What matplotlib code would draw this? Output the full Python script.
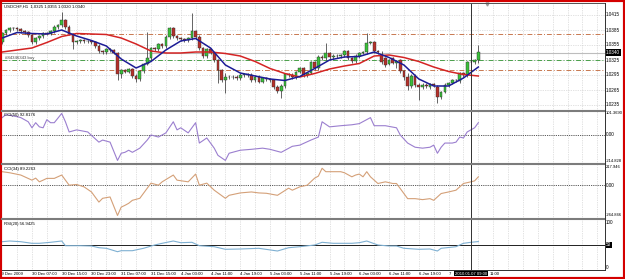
import numpy as np
import matplotlib
matplotlib.use("Agg")
import matplotlib.pyplot as plt
import matplotlib.transforms as mtransforms
from matplotlib.lines import Line2D
from matplotlib.patches import Rectangle

plt.rcParams['font.family'] = ['Liberation Sans', 'DejaVu Sans']

# ---------------- data ----------------
title_text = "USDCHF,H1  1.0325 1.0355 1.0320 1.0340"
order_text = "#84346343 buy"
cci50_text = "CCI(50) 92.8176"
cci34_text = "CCI(34) 89.2263"
rsi_text = "RSI(20) 56.9425"

time_labels = ["29 Dec 2009", "30 Dec 07:00", "30 Dec 15:00", "30 Dec 23:00", "31 Dec 07:00",
               "31 Dec 15:00", "4 Jan 03:00", "4 Jan 11:00", "4 Jan 19:00", "5 Jan 03:00",
               "5 Jan 11:00", "5 Jan 19:00", "6 Jan 03:00", "6 Jan 11:00", "6 Jan 19:00",
               "7 Jan 03:00", "7 Jan 11:00"]
time_label_bars = [0, 8, 16, 24, 32, 40, 48, 56, 64, 72, 80, 88, 96, 104, 112, 120, 128]
crosshair_label = "2010.01.07 09:00"
crosshair_bar = 126

open_ = [1.0361, 1.0379, 1.0385, 1.0389, 1.0389, 1.0387, 1.0383, 1.0381, 1.0375, 1.0361,
         1.0369, 1.0373, 1.0379, 1.0377, 1.0383, 1.0391, 1.0395, 1.0405, 1.0391, 1.0377,
         1.0361, 1.0363, 1.0365, 1.0363, 1.0363, 1.0361, 1.0353, 1.0343, 1.0341, 1.0347,
         1.0345, 1.0339, 1.0297, 1.0305, 1.0301, 1.0307, 1.0293, 1.0287, 1.0303, 1.0317,
         1.0329, 1.0349, 1.0347, 1.0357, 1.0353, 1.0371, 1.0389, 1.0373, 1.0369, 1.0367,
         1.0365, 1.0369, 1.0383, 1.0371, 1.0349, 1.0333, 1.0347, 1.0339, 1.0325, 1.0305,
         1.0285, 1.0291, 1.0291, 1.0291, 1.0289, 1.0295, 1.0297, 1.0295, 1.0285, 1.0291,
         1.0281, 1.0289, 1.0287, 1.0285, 1.0271, 1.0263, 1.0273, 1.0297, 1.0295, 1.0291,
         1.0301, 1.0309, 1.0295, 1.0299, 1.0321, 1.0309, 1.0331, 1.0329, 1.0339, 1.0331,
         1.0333, 1.0333, 1.0335, 1.0343, 1.0329, 1.0323, 1.0333, 1.0339, 1.0341, 1.0359,
         1.0361, 1.0343, 1.0335, 1.0329, 1.0317, 1.0329, 1.0319, 1.0325, 1.0303, 1.0291,
         1.0273, 1.0293, 1.0275, 1.0271, 1.0275, 1.0271, 1.0277, 1.0271, 1.0251, 1.0261,
         1.0275, 1.0279, 1.0285, 1.0283, 1.0299, 1.0295, 1.0321, 1.0321, 1.0325]
high_ = [1.0382, 1.0388, 1.0392, 1.0392, 1.0392, 1.0390, 1.0386, 1.0384, 1.0378, 1.0372,
         1.0376, 1.0382, 1.0382, 1.0386, 1.0394, 1.0398, 1.0421, 1.0408, 1.0394, 1.0380,
         1.0366, 1.0368, 1.0368, 1.0366, 1.0366, 1.0364, 1.0356, 1.0346, 1.0350, 1.0350,
         1.0348, 1.0342, 1.0308, 1.0308, 1.0310, 1.0310, 1.0296, 1.0306, 1.0320, 1.0381,
         1.0352, 1.0352, 1.0360, 1.0360, 1.0374, 1.0392, 1.0392, 1.0376, 1.0372, 1.0370,
         1.0372, 1.0419, 1.0386, 1.0374, 1.0352, 1.0350, 1.0350, 1.0342, 1.0328, 1.0308,
         1.0299, 1.0294, 1.0294, 1.0294, 1.0298, 1.0300, 1.0300, 1.0298, 1.0294, 1.0294,
         1.0292, 1.0292, 1.0290, 1.0288, 1.0274, 1.0276, 1.0300, 1.0300, 1.0298, 1.0304,
         1.0312, 1.0312, 1.0302, 1.0324, 1.0324, 1.0334, 1.0334, 1.0359, 1.0342, 1.0336,
         1.0336, 1.0338, 1.0346, 1.0346, 1.0332, 1.0336, 1.0342, 1.0344, 1.0379, 1.0364,
         1.0364, 1.0346, 1.0344, 1.0332, 1.0328, 1.0332, 1.0326, 1.0328, 1.0306, 1.0299,
         1.0296, 1.0296, 1.0278, 1.0278, 1.0278, 1.0280, 1.0280, 1.0274, 1.0264, 1.0278,
         1.0282, 1.0288, 1.0288, 1.0302, 1.0302, 1.0324, 1.0324, 1.0328, 1.0355]
low_ = [1.0357, 1.0376, 1.0382, 1.0386, 1.0384, 1.0380, 1.0378, 1.0372, 1.0358, 1.0358,
        1.0366, 1.0370, 1.0374, 1.0374, 1.0380, 1.0388, 1.0392, 1.0388, 1.0374, 1.0347,
        1.0358, 1.0360, 1.0360, 1.0360, 1.0358, 1.0350, 1.0340, 1.0338, 1.0338, 1.0342,
        1.0336, 1.0285, 1.0290, 1.0298, 1.0298, 1.0290, 1.0281, 1.0284, 1.0300, 1.0314,
        1.0326, 1.0344, 1.0344, 1.0350, 1.0350, 1.0368, 1.0370, 1.0366, 1.0364, 1.0362,
        1.0362, 1.0366, 1.0368, 1.0346, 1.0330, 1.0330, 1.0336, 1.0322, 1.0279, 1.0282,
        1.0259, 1.0288, 1.0288, 1.0286, 1.0286, 1.0292, 1.0292, 1.0282, 1.0282, 1.0278,
        1.0278, 1.0284, 1.0282, 1.0268, 1.0260, 1.0249, 1.0270, 1.0292, 1.0288, 1.0288,
        1.0298, 1.0292, 1.0292, 1.0296, 1.0306, 1.0306, 1.0326, 1.0326, 1.0328, 1.0328,
        1.0330, 1.0330, 1.0332, 1.0326, 1.0320, 1.0320, 1.0330, 1.0336, 1.0338, 1.0356,
        1.0340, 1.0338, 1.0318, 1.0312, 1.0314, 1.0316, 1.0309, 1.0300, 1.0285, 1.0265,
        1.0270, 1.0272, 1.0245, 1.0268, 1.0270, 1.0268, 1.0272, 1.0239, 1.0248, 1.0258,
        1.0272, 1.0276, 1.0282, 1.0280, 1.0292, 1.0292, 1.0318, 1.0318, 1.0320]
close_ = [1.0379, 1.0385, 1.0389, 1.0389, 1.0387, 1.0383, 1.0381, 1.0375, 1.0361, 1.0369,
          1.0373, 1.0379, 1.0377, 1.0383, 1.0391, 1.0395, 1.0405, 1.0391, 1.0377, 1.0361,
          1.0363, 1.0365, 1.0363, 1.0363, 1.0361, 1.0353, 1.0343, 1.0341, 1.0347, 1.0345,
          1.0339, 1.0297, 1.0305, 1.0301, 1.0307, 1.0293, 1.0287, 1.0303, 1.0317, 1.0329,
          1.0349, 1.0347, 1.0357, 1.0353, 1.0371, 1.0389, 1.0373, 1.0369, 1.0367, 1.0365,
          1.0369, 1.0383, 1.0371, 1.0349, 1.0333, 1.0347, 1.0339, 1.0325, 1.0305, 1.0285,
          1.0291, 1.0291, 1.0291, 1.0289, 1.0295, 1.0297, 1.0295, 1.0285, 1.0291, 1.0281,
          1.0289, 1.0287, 1.0285, 1.0271, 1.0263, 1.0273, 1.0297, 1.0295, 1.0291, 1.0301,
          1.0309, 1.0295, 1.0299, 1.0321, 1.0309, 1.0331, 1.0329, 1.0339, 1.0331, 1.0333,
          1.0333, 1.0335, 1.0343, 1.0329, 1.0323, 1.0333, 1.0339, 1.0341, 1.0359, 1.0361,
          1.0343, 1.0341, 1.0321, 1.0315, 1.0325, 1.0319, 1.0323, 1.0303, 1.0291, 1.0273,
          1.0293, 1.0275, 1.0271, 1.0275, 1.0273, 1.0277, 1.0275, 1.0251, 1.0261, 1.0275,
          1.0279, 1.0285, 1.0285, 1.0299, 1.0295, 1.0321, 1.0321, 1.0325, 1.0340]

ma_bars = [0, 4, 8, 12, 16, 20, 24, 28, 32, 36, 40, 44, 48, 52, 56, 60, 64, 68, 72, 76,
           80, 84, 88, 92, 96, 100, 104, 108, 112, 116, 120, 124, 128]
ma_fast = [1.0369, 1.0380, 1.0378, 1.0377, 1.0385, 1.0373, 1.0364, 1.0353, 1.0327, 1.0309,
           1.0322, 1.0345, 1.0363, 1.0368, 1.0349, 1.0315, 1.0299, 1.0293, 1.0287, 1.0284,
           1.0292, 1.0308, 1.0325, 1.0331, 1.0332, 1.0341, 1.0330, 1.0315, 1.0287, 1.0273,
           1.0273, 1.0289, 1.0311]
ma_slow = [1.0341, 1.0345, 1.0349, 1.0360, 1.0372, 1.0378, 1.0377, 1.0376, 1.0369, 1.0357,
           1.0343, 1.0339, 1.0339, 1.0341, 1.0341, 1.0338, 1.0333, 1.0322, 1.0308, 1.0298,
           1.0291, 1.0298, 1.0307, 1.0313, 1.0318, 1.0333, 1.0335, 1.0330, 1.0322, 1.0311,
           1.0302, 1.0296, 1.0293]

price_ticks = [1.0415, 1.0385, 1.0355, 1.0325, 1.0295, 1.0265, 1.0235]
price_tick_labels = ["1.0415", "1.0385", "1.0355", "1.0325", "1.0295", "1.0265", "1.0235"]
bid_price = 1.0340
order_price = 1.0325
tp_price = 1.0377
sl_price = 1.0306

cci50_bars = [0, 1, 4, 5, 7, 8, 9, 10, 11, 12, 13, 14, 16, 17, 18, 20, 23, 26, 27, 29,
              31, 32, 33, 34, 35, 37, 39, 40, 42, 44, 46, 47, 48, 50, 52, 53, 55, 57, 58, 60,
              61, 64, 67, 70, 72, 75, 78, 80, 83, 85, 86, 88, 91, 94, 96, 99, 100, 103, 106, 107,
              109, 111, 113, 115, 116, 117, 118, 119, 121, 122, 123, 124, 125, 126, 127, 128]
cci50_vals = [75, 88, 79, 75, 57, 31, 53, 35, 31, 66, 53, 53, 93, 57, 13, 22, 13, -31, -22, -31,
              -110, -79, -75, -66, -75, -57, -22, 0, -9, 9, 57, 22, 31, 9, 53, -35, -13, -57, -88, -110,
              -79, -66, -62, -57, -62, -75, -49, -44, -22, -9, 57, 35, 40, 44, 49, 75, 40, 40, 31, 0,
              -35, -53, -57, -53, -44, -79, -53, -35, -35, -31, -9, -13, 13, 22, 31, 53]

cci34_bars = [0, 2, 5, 8, 9, 10, 11, 12, 14, 16, 17, 18, 20, 22, 24, 26, 27, 29, 31, 32,
              33, 34, 35, 37, 39, 40, 42, 43, 46, 47, 50, 52, 53, 55, 57, 60, 61, 64, 67, 69,
              71, 74, 77, 78, 80, 82, 84, 85, 86, 87, 89, 91, 92, 94, 95, 96, 97, 98, 99, 101,
              103, 105, 106, 107, 109, 111, 113, 115, 116, 118, 120, 122, 123, 124, 126, 127, 128]
cci34_vals = [153, 141, 115, 57, 80, 38, 57, 77, 77, 115, 57, 0, 8, -19, -77, -192, -149, -134, -344, -249,
              -229, -206, -172, -149, -34, 23, 0, 38, 115, 57, 38, 126, 0, 23, -57, -149, -115, -88, -77, -88,
              -92, -115, -34, -57, -19, 0, 80, 103, 192, 153, 153, 153, 141, 95, 115, 126, 95, 153, 95, 19,
              38, 19, 19, -38, -153, -153, -164, -153, -172, -95, -77, -57, -19, 19, 38, 49, 95]

rsi_bars = [0, 2, 5, 8, 10, 13, 16, 17, 21, 24, 26, 28, 31, 32, 35, 38, 41, 43, 46, 48,
            51, 53, 57, 60, 64, 69, 74, 77, 80, 84, 86, 89, 94, 96, 98, 101, 104, 106, 108, 112,
            115, 117, 118, 122, 124, 126, 128]
rsi_vals = [56.6, 58.0, 56.6, 53.4, 53.4, 55.4, 58.0, 48.6, 48.6, 48.0, 44.6, 43.4, 36.6, 38.6, 38.6, 43.4,
            50.0, 53.4, 58.0, 54.6, 55.4, 48.6, 46.6, 41.4, 42.0, 43.4, 38.0, 44.6, 46.6, 50.0, 55.4, 53.4,
            53.4, 54.6, 58.0, 50.0, 48.0, 48.0, 43.4, 41.4, 42.0, 38.0, 43.4, 46.6, 53.4, 55.4, 56.9]

cci50_range = ("101.3690", "-214.828")
cci34_range = ("217.946", "-264.846")

# ---------------- layout helpers ----------------
W, H = 625, 279
fig = plt.figure(figsize=(W / 100, H / 100), dpi=100)
fig.patch.set_facecolor('white')


def fx(px):
    return px / W


def fy(py):
    return 1 - py / H


def rect(x0, y0, x1, y1):
    return [fx(x0), fy(y1), fx(x1) - fx(x0), fy(y0) - fy(y1)]


LEFT, RIGHT = 2, 605
ax_p = fig.add_axes(rect(LEFT, 3, RIGHT, 109.5))
ax_a = fig.add_axes(rect(LEFT, 111.5, RIGHT, 162.5))
ax_b = fig.add_axes(rect(LEFT, 165, RIGHT, 217.5))
ax_r = fig.add_axes(rect(LEFT, 220, RIGHT, 270))
all_axes = [ax_p, ax_a, ax_b, ax_r]

XLIM = (-0.05, 162.05)
FS = 3.1      # panel labels
FR = 3.3      # right-hand price labels
FRL = 2.95    # long right-hand scale labels
FT = 3.1      # time labels
GRID = '#c4c4c4'
XR = 1.0018   # x (axes fraction) where right scale labels start
for ax in all_axes:
    ax.set_xlim(*XLIM)
    ax.set_xticks([])
    ax.set_yticks([])
    for s in ax.spines.values():
        s.set_visible(False)
    ax.set_facecolor('white')
    for b in np.arange(4, 162, 4):
        ax.axvline(b, color=GRID, lw=0.45, ls=(0, (1.2, 1.6)), zorder=0)
    ax.axvline(crosshair_bar, color='#303030', lw=0.7, zorder=6)

# ---------------- price panel ----------------
ax_p.set_ylim(1.0226, 1.0439)
for p in price_ticks:
    ax_p.axhline(p, color=GRID, lw=0.45, ls=(0, (1.2, 1.6)), zorder=0)

ax_p.axhline(tp_price, color='#c87850', lw=0.7, ls=(0, (5, 2, 1, 2)), zorder=1)
ax_p.axhline(sl_price, color='#c87850', lw=0.7, ls=(0, (5, 2, 1, 2)), zorder=1)
ax_p.axhline(order_price, color='#4aa04a', lw=0.7, ls=(0, (5, 2, 1, 2)), zorder=1)
ax_p.axhline(bid_price, color='#bdbdbd', lw=0.8, zorder=1)

o = np.array(open_)
h = np.array(high_)
l = np.array(low_)
c = np.array(close_)
n = len(c)
xb = np.arange(n)
bull = c >= o
ax_p.vlines(xb, l, h, color='#3a3a3a', lw=0.55, zorder=2)
body_lo = np.minimum(o, c)
body_h = np.maximum(np.abs(c - o), 0.00005)
ax_p.bar(xb, body_h, bottom=body_lo, width=0.72,
         color=np.where(bull, '#39c039', '#b5302a'),
         edgecolor='#2c2c2c', linewidth=0.3, zorder=3)

ax_p.plot(ma_bars, ma_slow, color='#d42424', lw=1.1, zorder=4)
ax_p.plot(ma_bars, ma_fast, color='#1c1c96', lw=1.1, zorder=5)

tr_p = mtransforms.blended_transform_factory(ax_p.transAxes, ax_p.transData)
for p, s in zip(price_ticks, price_tick_labels):
    ax_p.text(XR, p, s, transform=tr_p, fontsize=FR, va='center', ha='left', clip_on=False)
ax_p.text(XR, bid_price, "1.0340", transform=tr_p, fontsize=FR, va='center', ha='left',
          color='white', clip_on=False,
          bbox=dict(boxstyle='square,pad=0.12', fc='black', ec='none'))

fig.text(fx(4), fy(6.3), title_text, fontsize=FS, va='center', ha='left')
ax_p.text(0.7, order_price + 0.00045, order_text, fontsize=FS, va='center', ha='left', color='#404040')

# shift marker
ax_p.plot([130.4], [1.0437], marker='v', ms=2.2, color='#9a9a9a', clip_on=False, zorder=7)

# ---------------- CCI(50) ----------------
ax_a.set_ylim(-119, 101.4)
ax_a.axhline(0, color='#202020', lw=0.6, ls=(0, (1, 1.2)), zorder=1)
ax_a.plot(cci50_bars, cci50_vals, color='#9b7fcf', lw=0.8, zorder=3)
ax_a.text(0.004, 0.97, cci50_text, transform=ax_a.transAxes, fontsize=FS, va='top', ha='left')
ax_a.text(XR, 1.0, cci50_range[0], transform=ax_a.transAxes, fontsize=FRL, va='top', clip_on=False)
ax_a.text(XR, 0.0, cci50_range[1], transform=ax_a.transAxes, fontsize=FRL, va='bottom', clip_on=False)
tr_a = mtransforms.blended_transform_factory(ax_a.transAxes, ax_a.transData)
ax_a.text(XR, 0, "0.00", transform=tr_a, fontsize=FR, va='center', clip_on=False)

# ---------------- CCI(34) ----------------
ax_b.set_ylim(-367, 229)
ax_b.axhline(0, color='#202020', lw=0.6, ls=(0, (1, 1.2)), zorder=1)
ax_b.plot(cci34_bars, cci34_vals, color='#d4a078', lw=0.8, zorder=3)
ax_b.text(0.004, 0.97, cci34_text, transform=ax_b.transAxes, fontsize=FS, va='top', ha='left')
ax_b.text(XR, 1.0, cci34_range[0], transform=ax_b.transAxes, fontsize=FRL, va='top', clip_on=False)
ax_b.text(XR, 0.0, cci34_range[1], transform=ax_b.transAxes, fontsize=FRL, va='bottom', clip_on=False)
tr_b = mtransforms.blended_transform_factory(ax_b.transAxes, ax_b.transData)
ax_b.text(XR, 0, "0.00", transform=tr_b, fontsize=FR, va='center', clip_on=False)

# ---------------- RSI(20) ----------------
ax_r.set_ylim(0, 100)
ax_r.axhline(50, color='#202020', lw=0.7, zorder=1)
ax_r.plot(rsi_bars, rsi_vals, color='#7fb0d2', lw=0.8, zorder=3)
ax_r.text(0.004, 0.97, rsi_text, transform=ax_r.transAxes, fontsize=FS, va='top', ha='left')
ax_r.text(XR, 1.0, "100", transform=ax_r.transAxes, fontsize=FR, va='top', clip_on=False)
ax_r.text(XR, 0.0, "0", transform=ax_r.transAxes, fontsize=FR, va='bottom', clip_on=False)
tr_r = mtransforms.blended_transform_factory(ax_r.transAxes, ax_r.transData)
ax_r.text(XR, 50, "50", transform=tr_r, fontsize=FR, va='center', color='white', clip_on=False,
          bbox=dict(boxstyle='square,pad=0.12', fc='black', ec='none'))

# ---------------- time axis ----------------
tr_t = mtransforms.blended_transform_factory(ax_r.transData, fig.transFigure)
y_t = fy(273.6)
fig.canvas.draw()
renderer = fig.canvas.get_renderer()
box = ax_r.text(crosshair_bar, y_t, crosshair_label, transform=tr_t, fontsize=FT, va='center',
                ha='center', color='white', clip_on=False, zorder=10,
                bbox=dict(boxstyle='square,pad=0.2', fc='black', ec='none'))
box_ext = box.get_window_extent(renderer=renderer)
box_l, box_r = box_ext.x0 - 2, box_ext.x1 + 2
for i, (b, s) in enumerate(zip(time_label_bars, time_labels)):
    shift = -0.9 if i == 0 else 0
    t = ax_r.text(b + shift, y_t, s, transform=tr_t, fontsize=FT, va='center', ha='left', clip_on=False)
    ext = t.get_window_extent(renderer=renderer)
    if ext.x1 > box_l and ext.x0 < box_r:
        # only the part of the label that the crosshair box leaves visible
        if ext.x0 < box_l:
            t.set_text(s.split()[0])
        else:
            t.remove()
            fig.text((box_r + 1) / W, y_t, s.split()[-1], fontsize=FT, va='center', ha='left')

# ---------------- frame / separators ----------------
def hline_px(y, x0, x1, color, lw):
    fig.add_artist(Line2D([fx(x0), fx(x1)], [fy(y), fy(y)], color=color, lw=lw))


def vline_px(x, y0, y1, color, lw):
    fig.add_artist(Line2D([fx(x), fx(x)], [fy(y0), fy(y1)], color=color, lw=lw))


hline_px(3, LEFT, RIGHT, '#505050', 0.7)
hline_px(110.5, LEFT, RIGHT, '#7c7c7c', 1.5)
hline_px(163.8, LEFT, RIGHT, '#7c7c7c', 1.5)
hline_px(218.8, LEFT, RIGHT, '#7c7c7c', 1.5)
hline_px(270.3, LEFT, RIGHT, '#303030', 0.7)
vline_px(RIGHT, 3, 270.3, '#303030', 0.7)

fig.add_artist(Rectangle((0, 0), 1, 1, transform=fig.transFigure, fill=False,
                         edgecolor='#d40000', lw=3.0))

fig.savefig("out.png", dpi=100)
